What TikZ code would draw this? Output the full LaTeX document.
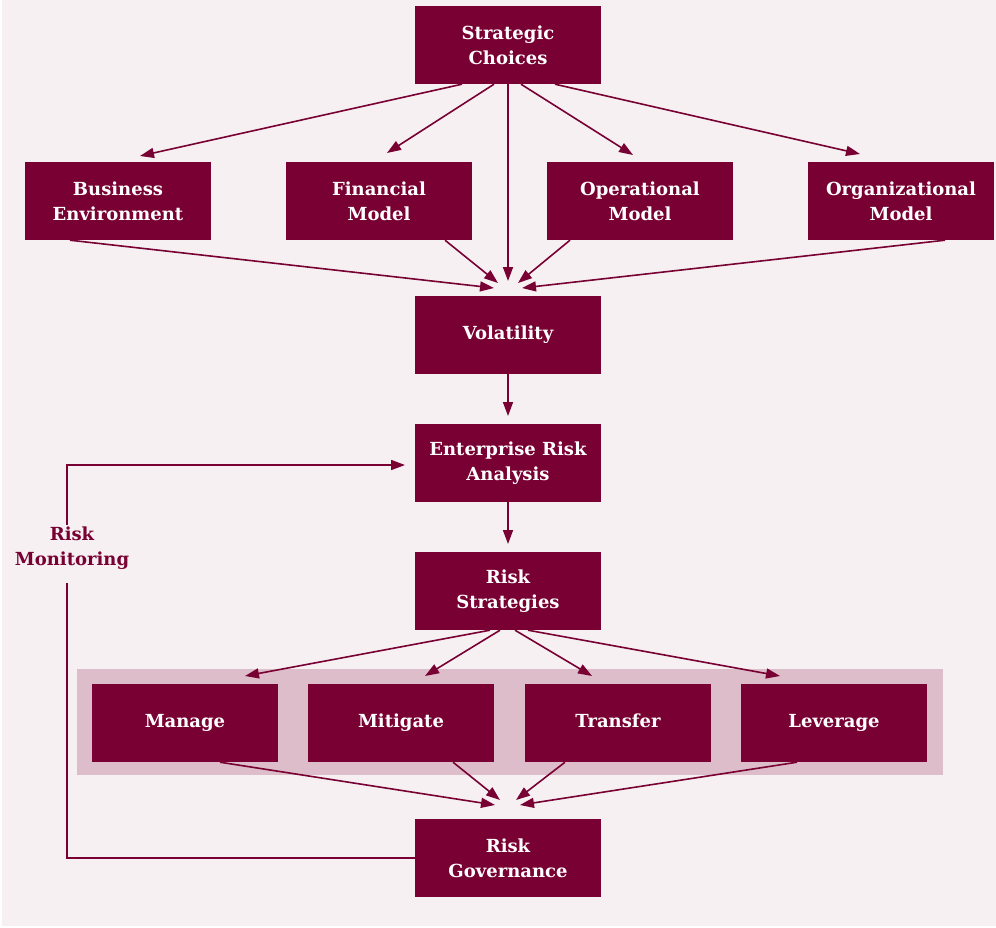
\documentclass[tikz,border=0pt]{standalone}
\usepackage{fontspec}
\setmainfont{DejaVu Serif}
\usetikzlibrary{arrows.meta}
\definecolor{boxc}{HTML}{780032}
\definecolor{bandc}{HTML}{DCBDC9}
\definecolor{bgc}{HTML}{F6F0F2}
\begin{document}
\begin{tikzpicture}[x=1pt,y=-1pt,
  box/.style={fill=boxc,draw=none,minimum width=186pt,minimum height=78pt,inner sep=0pt,text=white,align=center,font=\bfseries\fontsize{18}{25}\selectfont},
  one/.style={box,text height=13pt,text depth=3.5pt},
  conn/.style={draw=boxc,line width=1.6pt,-{Triangle[length=14pt,width=10pt]}},
  line/.style={draw=boxc,line width=1.6pt}]
\fill[white] (0,0) rectangle (996,928);
\fill[bgc] (2,0) rectangle (996,926);
\useasboundingbox (0,0) rectangle (996,928);
\fill[bandc] (77,669) rectangle (943,775);
\node[box] (sc) at (508,45) {Strategic\\Choices};
\node[box] (be) at (118,201) {Business\\Environment};
\node[box] (fm) at (379,201) {Financial\\Model};
\node[box] (om) at (640,201) {Operational\\Model};
\node[box] (org) at (901,201) {Organizational\\Model};
\node[one] (vol) at (508,335) {Volatility};
\node[box] (era) at (508,463) {Enterprise Risk\\Analysis};
\node[box] (rs) at (508,591) {Risk\\Strategies};
\node[one] (man) at (185,723) {Manage};
\node[one] (mit) at (401,723) {Mitigate};
\node[one] (tra) at (618,723) {Transfer};
\node[one] (lev) at (834,723) {Leverage};
\node[box] (rg) at (508,858) {Risk\\Governance};
\node[text=boxc,align=center,font=\bfseries\fontsize{18}{25}\selectfont] (mon) at (72,548) {Risk\\Monitoring};
\coordinate (t1) at (140,156);
\coordinate (t2) at (387,153);
\coordinate (t3) at (633,155);
\coordinate (t4) at (860,154);
\coordinate (v0) at (508,281);
\coordinate (v1) at (494,288);
\coordinate (v2) at (498,283);
\coordinate (v3) at (518,283);
\coordinate (v4) at (522,288);
\coordinate (e0) at (508,416);
\coordinate (r0) at (508,544);
\coordinate (k1) at (245,676);
\coordinate (k2) at (425,676);
\coordinate (k3) at (592,676);
\coordinate (k4) at (780,676);
\coordinate (g1) at (495,805);
\coordinate (g2) at (500,800);
\coordinate (g3) at (516,800);
\coordinate (g4) at (520,805);
\draw[conn] (sc.south -| 462,0) -- (t1);
\draw[conn] (sc.south -| 494,0) -- (t2);
\draw[conn] (sc.south -| 521,0) -- (t3);
\draw[conn] (sc.south -| 555,0) -- (t4);
\draw[conn] (sc.south) -- (v0);
\draw[conn] (be.south -| 70,0) -- (v1);
\draw[conn] (fm.south -| 445,0) -- (v2);
\draw[conn] (om.south -| 570,0) -- (v3);
\draw[conn] (org.south -| 945,0) -- (v4);
\draw[conn] (vol.south) -- (e0);
\draw[conn] (era.south) -- (r0);
\draw[conn] (rs.south -| 490,0) -- (k1);
\draw[conn] (rs.south -| 500,0) -- (k2);
\draw[conn] (rs.south -| 515,0) -- (k3);
\draw[conn] (rs.south -| 528,0) -- (k4);
\draw[conn] (man.south -| 220,0) -- (g1);
\draw[conn] (mit.south -| 453,0) -- (g2);
\draw[conn] (tra.south -| 565,0) -- (g3);
\draw[conn] (lev.south -| 797,0) -- (g4);
\draw[line] (rg.west) -- (67,858) -- (67,583);
\draw[conn] (67,525) -- (67,465) -- (405,465);
\end{tikzpicture}
\end{document}
